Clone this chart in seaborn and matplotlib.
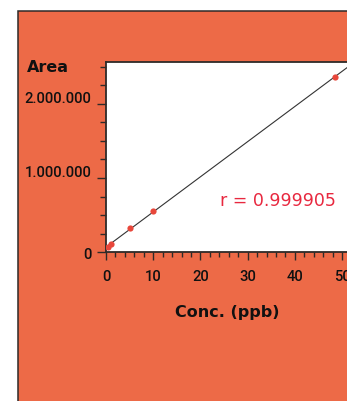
import numpy as np
import pandas as pd
import matplotlib
matplotlib.use("Agg")
import matplotlib.pyplot as plt
import matplotlib.transforms as mtransforms
from matplotlib.patches import Rectangle
from matplotlib.ticker import MultipleLocator
import seaborn as sns

# calibration standards
conc = [0.5, 1.0, 5.0, 10.0, 48.5]          # ppb
area = [70000, 115000, 325000, 555000, 2360000]
r_value = "0.999905"

x_major = [0, 10, 20, 30, 40, 50]
y_major = [0, 1000000, 2000000]
y_labels = ["0", "1.000.000", "2.000.000"]

ORANGE = "#ED6A47"
DARK = "#2e2a28"
RED = "#E8473B"
PINK = "#E8283F"

sns.set_style("ticks")
plt.rcParams["font.family"] = ["Roboto", "DejaVu Sans"]

W, H = 347, 402
fig = plt.figure(figsize=(W / 100, H / 100), dpi=100, facecolor="white")

# orange panel with dark left/top border, kept behind the axes
fig.patches.append(Rectangle((18.3 / W, -0.1), 1.2, 1 - 12.3 / H + 0.1,
                             transform=fig.transFigure, facecolor=ORANGE,
                             edgecolor=DARK, lw=1.1, zorder=-10))

ax = fig.add_axes([106 / W, 1 - 253.3 / H, 262 / W, 190.6 / H])
ax.set_zorder(1)
ax.set_facecolor("white")
ax.set_xlim(0, 55.5)
ax.set_ylim(0, 2565000)

df = pd.DataFrame({"conc": conc, "area": area})
sns.regplot(data=df, x="conc", y="area", ax=ax, ci=None, truncate=False,
            scatter_kws={"color": RED, "s": 20, "alpha": 1, "linewidths": 0, "zorder": 3},
            line_kws={"color": "#333333", "lw": 0.8, "zorder": 2})
ax.set_xlim(0, 55.5)
ax.set_ylim(0, 2565000)

for side in ["left", "bottom", "top", "right"]:
    ax.spines[side].set_visible(True)
    ax.spines[side].set_color(DARK)
    ax.spines[side].set_linewidth(1.3)

ax.set_xticks(x_major)
ax.xaxis.set_minor_locator(MultipleLocator(2))
ax.set_yticks(y_major, y_labels)
ax.yaxis.set_minor_locator(MultipleLocator(250000))
ax.tick_params(axis="x", which="major", length=5.6, width=1, color=DARK,
               labelsize=10.6, pad=6.5, labelcolor="#111111")
ax.tick_params(axis="x", which="minor", length=3.6, width=1, color=DARK)
ax.tick_params(axis="y", which="major", length=6.6, width=1, color=DARK,
               labelsize=10.6, pad=4, labelcolor="#111111")
ax.tick_params(axis="y", which="minor", length=4.3, width=1, color=DARK)
ax.set_xlabel("")
ax.set_ylabel("")

for lbl in ax.get_xticklabels() + ax.get_yticklabels():
    lbl.set_fontweight("medium")

# non-zero y labels sit a little above their tick
shift = mtransforms.ScaledTranslation(0, 7.5 / 100, fig.dpi_scale_trans)
for lbl, v in zip(ax.get_yticklabels(), y_major):
    if v != 0:
        lbl.set_transform(lbl.get_transform() + shift)

fig.text(26.7 / W, 1 - 68 / H, "Area", family="DejaVu Sans", fontweight="bold",
         fontsize=11.5, color="#111111", ha="left", va="center", zorder=5)
fig.text(227.5 / W, 1 - 312.5 / H, "Conc. (ppb)", family="DejaVu Sans",
         fontweight="bold", fontsize=11.5, color="#111111", ha="center", va="center", zorder=5)
fig.text(220 / W, 1 - 201 / H, "r = " + r_value, family="DejaVu Sans",
         fontsize=12.5, color=PINK, ha="left", va="center", zorder=5)

fig.savefig("out.png", dpi=100, facecolor="white")
